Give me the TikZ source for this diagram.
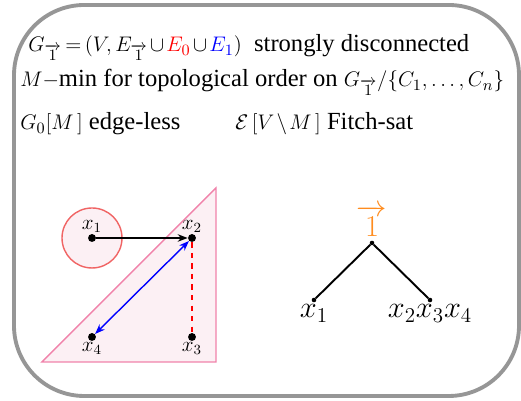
\documentclass[tikz,border=0pt]{standalone}
\usepackage{amsmath,amssymb}
\usepackage{fontspec}
\setmainfont{Liberation Serif}
\usepackage{xcolor}
\usetikzlibrary{arrows.meta, positioning, calc}

\definecolor{framegray}{RGB}{150,150,150}
\definecolor{trired}{RGB}{240,130,170}
\definecolor{circred}{RGB}{240,100,100}
\definecolor{softpink}{RGB}{252,240,244}
\definecolor{treeorange}{RGB}{255,140,30}
\DeclareMathSizes{14}{12.5}{9}{7}
\newcommand{\headfont}{\fontsize{14}{16}\selectfont\thickmuskip 3mu\relax\medmuskip 2mu\relax}

\begin{document}
\begin{tikzpicture}[
    x=0.02cm, y=0.02cm,
    dot/.style={circle, fill=black, inner sep=0pt, minimum size=4.5pt},
    leaf/.style={circle, fill=black, inner sep=0pt, minimum size=2.6pt},
    lbl/.style={font=\fontsize{12}{13}\selectfont, inner sep=0.5pt},
    tlbl/.style={font=\fontsize{17}{18}\selectfont, inner sep=1pt},
    head/.style={anchor=base west, inner sep=0pt, font=\headfont},
    arrow/.style={-{Stealth[length=2mm]}, thick}
]
\useasboundingbox (0,0) rectangle (521,401);
% frame
\draw[framegray, line width=2.2pt, rounded corners=40] (14,5) rectangle (519,396);

% header
\node[head] (l1) at (28,349) {$G_{\overrightarrow{1}}=(V,E_{\overrightarrow{1}}\cup{\color{red}E_0}\cup{\color{blue}E_1})$\ \ strongly disconnected};
\node[head] (l2) at (20,314) {$M-$min for topological order on $G_{\overrightarrow{1}}/\{C_1,\ldots,C_n\}$};
\node[head] (l3) at (20,271) {$G_0[M\,]$ edge-less};
\node[head] (l4) at (235,271) {$\mathcal{E}\,[V\setminus M\,]$ Fitch-sat};

% graph
\draw[trired, fill=softpink, thick] (42,39) -- (216,39) -- (216,213) -- cycle;
\draw[circred, fill=softpink, thick] (92,163) circle (30);
\node[dot] (x1) at (92,163) {};
\node[dot] (x2) at (192,163) {};
\node[dot] (x3) at (192,64) {};
\node[dot] (x4) at (92,64) {};
\node[lbl, above=0pt of x1] {$x_1$};
\node[lbl, above=0pt of x2] {$x_2$};
\node[lbl, below=0pt of x3] {$x_3$};
\node[lbl, below=0pt of x4] {$x_4$};
\draw[arrow] (x1) -- (x2);
\draw[{Stealth[length=2mm]}-{Stealth[length=2mm]}, thick, blue] (x2) -- (x4);
\draw[red, dashed, thick] (x2) -- (x3);

% tree
\node[leaf] (root) at (372,158) {};
\node[leaf] (t1) at (314,101) {};
\node[leaf] (t2) at (430,101) {};
\node[tlbl, above=1pt of root, text=treeorange] {$\overrightarrow{1}$};
\node[tlbl, below=0pt of t1] {$x_1$};
\node[tlbl, below=0pt of t2] {$x_2x_3x_4$};
\draw[line width=1.1pt] (root) -- (t1);
\draw[line width=1.1pt] (root) -- (t2);
\end{tikzpicture}
\end{document}
